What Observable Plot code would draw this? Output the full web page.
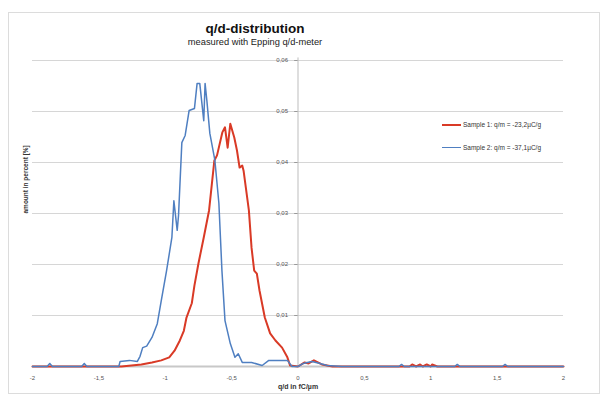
<!DOCTYPE html>
<html>
<head>
<meta charset="utf-8">
<script src="https://cdn.jsdelivr.net/npm/d3@7"></script>
<script src="https://cdn.jsdelivr.net/npm/@observablehq/plot@0.6"></script>
<style>
  body { margin: 0; background: #fff; font-family: "Liberation Sans", Arial, sans-serif; }
  #wrap { position: relative; width: 610px; height: 396px; overflow: hidden; }
  #border { position: absolute; left: 8px; top: 12px; width: 592px; height: 382px; border: 1px solid #dcdcdc; box-sizing: border-box; pointer-events: none; }
  .title { position: absolute; left: 155px; width: 200px; text-align: center; color: #111; }
  #t1 { top: 21px; font-size: 13.5px; font-weight: bold; }
  #t2 { top: 37px; font-size: 9.3px; color: #222; }
  .leg { position: absolute; left: 442px; font-size: 6.5px; color: #333; display: flex; align-items: center; white-space: nowrap; }
  .leg i { display: inline-block; width: 19px; margin-right: 2px; }
</style>
</head>
<body>
<div id="wrap">
  <div id="chart"></div>
  <div id="border"></div>
  <div class="title" id="t1">q/d-distribution</div>
  <div class="title" id="t2">measured with Epping q/d-meter</div>
  <div class="leg" id="l1" style="top:121px"><i style="border-top:2px solid #d93a26"></i><span id="s1"></span></div>
  <div class="leg" id="l2" style="top:144px"><i style="border-top:1.5px solid #4f7fc1"></i><span id="s2"></span></div>
</div>
<script>
// Series names
const seriesNames = ["Sample 1: q/m = -23,2µC/g", "Sample 2: q/m = -37,1µC/g"];

// Sample 1 (red): q/d in fC/µm and amount
const sample1Q = [-2, -1.33, -1.18, -1.10, -1.03, -0.97, -0.93, -0.89, -0.86, -0.84, -0.80, -0.78, -0.75, -0.71, -0.67, -0.63, -0.61, -0.57, -0.55, -0.53, -0.51, -0.48, -0.46, -0.44, -0.42, -0.41, -0.37, -0.35, -0.33, -0.31, -0.29, -0.25, -0.21, -0.17, -0.12, -0.08, -0.06, 0, 0.05, 0.08, 0.12, 0.18, 0.26, 0.84, 0.86, 0.89, 0.92, 0.94, 0.97, 1.00, 1.01, 1.05, 2];
const sample1Amount = [0, 0, 0.0004, 0.0008, 0.0012, 0.0018, 0.0031, 0.0051, 0.007, 0.0096, 0.0124, 0.0159, 0.0202, 0.0253, 0.0306, 0.0404, 0.0414, 0.0459, 0.0469, 0.0429, 0.0476, 0.0449, 0.0424, 0.039, 0.0394, 0.0384, 0.0306, 0.0233, 0.0188, 0.0182, 0.0149, 0.0096, 0.0065, 0.0051, 0.0037, 0.0018, 0.0002, 0, 0.0008, 0.0006, 0.0012, 0.0004, 0, 0, 0.0004, 0, 0.0004, 0, 0.0004, 0, 0.0004, 0, 0];

// Sample 2 (blue)
const sample2Q = [-2, -1.89, -1.87, -1.85, -1.63, -1.61, -1.59, -1.35, -1.34, -1.27, -1.21, -1.19, -1.17, -1.14, -1.10, -1.06, -1.03, -0.99, -0.95, -0.935, -0.91, -0.90, -0.875, -0.85, -0.82, -0.78, -0.76, -0.74, -0.71, -0.70, -0.686, -0.664, -0.626, -0.596, -0.573, -0.55, -0.51, -0.475, -0.45, -0.42, -0.35, -0.27, -0.22, -0.08, -0.045, 0, 0.04, 0.07, 0.105, 0.166, 0.22, 0.33, 0.76, 0.78, 0.80, 1.18, 1.2, 1.22, 1.54, 1.56, 1.58, 2];
const sample2Amount = [0, 0, 0.0006, 0, 0, 0.0006, 0, 0, 0.001, 0.0012, 0.001, 0.002, 0.0037, 0.004, 0.0057, 0.0084, 0.0129, 0.0188, 0.0253, 0.0325, 0.0267, 0.0296, 0.0439, 0.0453, 0.0502, 0.0506, 0.0555, 0.0555, 0.0482, 0.0555, 0.052, 0.0457, 0.0404, 0.032, 0.0188, 0.009, 0.0045, 0.0018, 0.0025, 0.0008, 0.0008, 0.0002, 0.0012, 0.0012, 0, 0, 0.0006, 0.0008, 0.001, 0.0006, 0.0002, 0, 0, 0.0004, 0, 0, 0.0004, 0, 0, 0.0004, 0, 0];

// Tick values
const xTicks = [-2, -1.5, -1, -0.5, 0, 0.5, 1, 1.5, 2];
const yTicks = [0.01, 0.02, 0.03, 0.04, 0.05, 0.06];

const colors = ["#d93a26", "#4f7fc1"];
const comma = d => String(d).replace(".", ",");
const fmt2 = d => d.toFixed(2).replace(".", ",");

const s1 = sample1Q.map((q, i) => ({q, a: sample1Amount[i]}));
const s2 = sample2Q.map((q, i) => ({q, a: sample2Amount[i]}));

document.getElementById("s1").textContent = seriesNames[0];
document.getElementById("s2").textContent = seriesNames[1];

const chart = Plot.plot({
  width: 610,
  height: 396,
  marginLeft: 32,
  marginRight: 47,
  marginTop: 60,
  marginBottom: 30,
  style: {fontFamily: "'Liberation Sans', Arial, sans-serif", background: "white", overflow: "visible"},
  x: {type: "linear", domain: [-2, 2]},
  y: {type: "linear", domain: [0, 0.06], axis: null},
  marks: [
    Plot.ruleY(yTicks, {stroke: "#d6d6d6", strokeWidth: 1}),
    Plot.ruleY([0], {stroke: "#c8c8c8", strokeWidth: 2}),
    Plot.ruleX([0], {stroke: "#bdbdbd", strokeWidth: 1, y1: 0, y2: 0.0605}),
    Plot.ruleY(yTicks, {x1: -0.025, x2: 0, stroke: "#999", strokeWidth: 1}),
    Plot.text(yTicks, {x: 0, y: d => d, text: fmt2, textAnchor: "end", dx: -10, fontSize: 6, fill: "#555"}),
    Plot.axisX(xTicks, {tickSize: 0, tickPadding: 9, tickFormat: comma, fontSize: 6, fill: "#555", label: null}),
    Plot.line(s1, {x: "q", y: "a", stroke: colors[0], strokeWidth: 2, curve: "linear"}),
    Plot.line(s2, {x: "q", y: "a", stroke: colors[1], strokeWidth: 1.5, curve: "linear"}),
    Plot.text(["q/d in fC/µm"], {frameAnchor: "bottom", dy: 22, fontSize: 7, fontWeight: "bold", fill: "#333"}),
    Plot.text(["amount in percent [%]"], {frameAnchor: "left", rotate: -90, dx: -7, fontSize: 6.5, fontWeight: "bold", fill: "#333"})
  ]
});
document.getElementById("chart").appendChild(chart);
</script>
</body>
</html>
